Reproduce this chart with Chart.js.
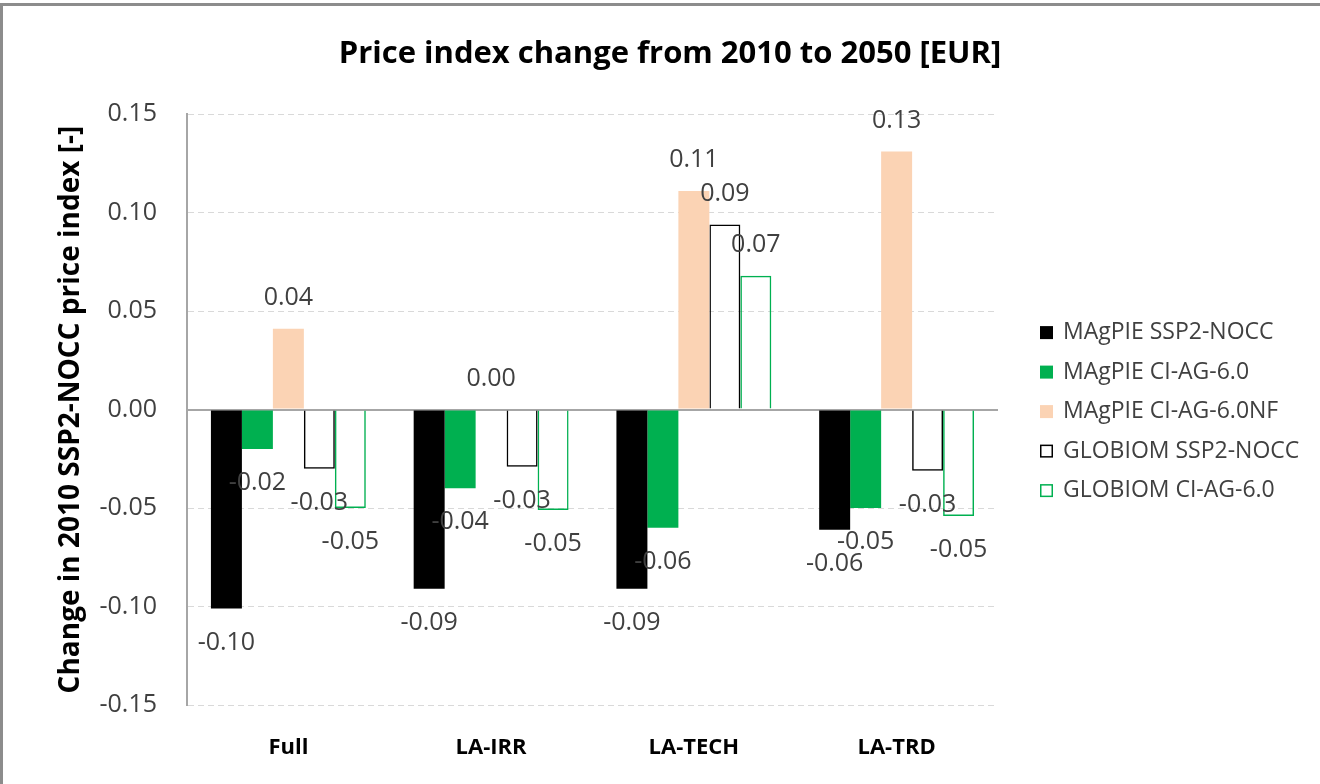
<!DOCTYPE html>
<html><head><meta charset="utf-8">
<script src="https://cdn.jsdelivr.net/npm/chart.js@4.4.0/dist/chart.umd.min.js"></script>
<style>html,body{margin:0;padding:0;background:#fff;}canvas{display:block;}</style>
</head><body>
<canvas id="c" width="1320" height="784"></canvas>
<script>
const categories = ['Full', 'LA-IRR', 'LA-TECH', 'LA-TRD'];
const seriesNames = ['MAgPIE SSP2-NOCC', 'MAgPIE CI-AG-6.0', 'MAgPIE CI-AG-6.0NF', 'GLOBIOM SSP2-NOCC', 'GLOBIOM CI-AG-6.0'];
const magpieSSP2 = [-0.101, -0.091, -0.091, -0.061];
const magpieCI = [-0.020, -0.040, -0.060, -0.050];
const magpieCINF = [0.041, 0.000, 0.111, 0.131];
const globiomSSP2 = [-0.030, -0.029, 0.094, -0.031];
const globiomCI = [-0.050, -0.051, 0.068, -0.054];
const yTicks = [-0.15, -0.10, -0.05, 0.00, 0.05, 0.10, 0.15];

const FONT = "'Open Sans', sans-serif";
const isZero = v => Math.abs(v) < 1e-9;

const framePlugin = {
  id: 'frame',
  beforeDraw(chart) {
    const ctx = chart.ctx;
    ctx.save();
    ctx.fillStyle = '#fff';
    ctx.fillRect(0, 0, chart.width, chart.height);
    ctx.strokeStyle = '#8c8c8c';
    ctx.lineWidth = 3;
    ctx.beginPath();
    ctx.moveTo(1.5, chart.height);
    ctx.lineTo(1.5, 4.5);
    ctx.lineTo(chart.width, 4.5);
    ctx.stroke();
    ctx.restore();
  }
};

const labelPlugin = {
  id: 'valueLabels',
  afterDatasetsDraw(chart) {
    const ctx = chart.ctx;
    ctx.save();
    ctx.font = `25px ${FONT}`;
    ctx.fillStyle = '#404040';
    ctx.textAlign = 'center';
    ctx.textBaseline = 'middle';
    chart.data.datasets.forEach((ds, i) => {
      const meta = chart.getDatasetMeta(i);
      meta.data.forEach((bar, j) => {
        const v = ds.data[j];
        const y = v >= 0 ? bar.y - 31 : bar.y + 34;
        ctx.fillText(isZero(v) ? '0.00' : v.toFixed(2), bar.x, y);
      });
    });
    ctx.restore();
  }
};

const legendPlugin = {
  id: 'sideLegend',
  afterDraw(chart) {
    const ctx = chart.ctx;
    const area = chart.chartArea;
    const lx = area.right + 42;
    const cy = (area.top + area.bottom) / 2 + 2;
    const gap = 39.5;
    const n = chart.data.datasets.length;
    ctx.save();
    ctx.font = `23px ${FONT}`;
    ctx.textAlign = 'left';
    ctx.textBaseline = 'middle';
    chart.data.datasets.forEach((ds, i) => {
      const y = cy + (i - (n - 1) / 2) * gap;
      if (ds.borderWidth && ds.borderWidth > 0) {
        ctx.fillStyle = '#fff';
        ctx.fillRect(lx, y - 6.5, 13, 13);
        ctx.strokeStyle = ds.borderColor;
        ctx.lineWidth = 1.5;
        ctx.strokeRect(lx + 0.75, y - 5.75, 11.5, 11.5);
      } else {
        ctx.fillStyle = ds.backgroundColor;
        ctx.fillRect(lx, y - 6.5, 13, 13);
      }
      ctx.fillStyle = '#404040';
      ctx.fillText(ds.label, lx + 23, y);
    });
    ctx.restore();
  }
};

const seriesData = [magpieSSP2, magpieCI, magpieCINF, globiomSSP2, globiomCI];
const fills = ['#000000', '#00b050', '#fbd3b4', 'rgba(255,255,255,0)', 'rgba(255,255,255,0)'];
const borders = ['#000000', '#00b050', '#fbd3b4', '#000000', '#00b050'];
const bws = [0, 0, 0, 1.5, 1.5];

new Chart(document.getElementById('c'), {
  type: 'bar',
  data: {
    labels: categories,
    datasets: seriesData.map((d, i) => ({
      label: seriesNames[i],
      data: d,
      backgroundColor: fills[i],
      borderColor: borders[i],
      borderWidth: bws[i],
      barPercentage: 1,
      categoryPercentage: 0.764
    }))
  },
  options: {
    responsive: false,
    devicePixelRatio: 1,
    animation: false,
    layout: { padding: { left: 20, right: 0, top: 0, bottom: 0 } },
    plugins: {
      legend: { display: false },
      tooltip: { enabled: false },
      title: {
        display: true,
        text: 'Price index change from 2010 to 2050 [EUR]',
        color: '#000',
        font: { family: FONT, size: 31, weight: 'bold' },
        padding: { top: 36, bottom: 41 }
      }
    },
    scales: {
      x: {
        grid: { display: false, drawTicks: false },
        border: { display: false },
        ticks: { color: '#000', font: { family: FONT, size: 22, weight: 'bold' }, padding: 30 },
        afterFit: s => { s.height = 79; }
      },
      y: {
        min: yTicks[0],
        max: yTicks[yTicks.length - 1],
        afterBuildTicks: s => { s.ticks = yTicks.map(v => ({ value: v })); },
        ticks: {
          color: '#404040',
          font: { family: FONT, size: 25 },
          padding: 30,
          callback: v => isZero(v) ? '0.00' : Number(v).toFixed(2)
        },
        grid: {
          drawTicks: false,
          color: c => (c.tick && isZero(c.tick.value)) ? '#a6a6a6' : '#d9d9d9',
          lineWidth: c => (c.tick && isZero(c.tick.value)) ? 2 : 1
        },
        border: {
          display: true, color: '#a6a6a6', width: 2,
          dash: c => (c.tick && isZero(c.tick.value)) ? [] : [6, 4]
        },
        title: {
          display: true,
          text: 'Change in 2010 SSP2-NOCC price index [-]',
          color: '#000',
          font: { family: FONT, size: 28, weight: 'bold' },
          padding: { top: 34, bottom: 0 }
        },
        afterFit: s => { s.width = 167; }
      },
      yR: {
        position: 'right',
        display: true,
        grid: { display: false, drawTicks: false },
        border: { display: false },
        ticks: { display: false },
        afterFit: s => { s.width = 322; }
      }
    }
  },
  plugins: [framePlugin, labelPlugin, legendPlugin]
});
</script>
</body></html>
